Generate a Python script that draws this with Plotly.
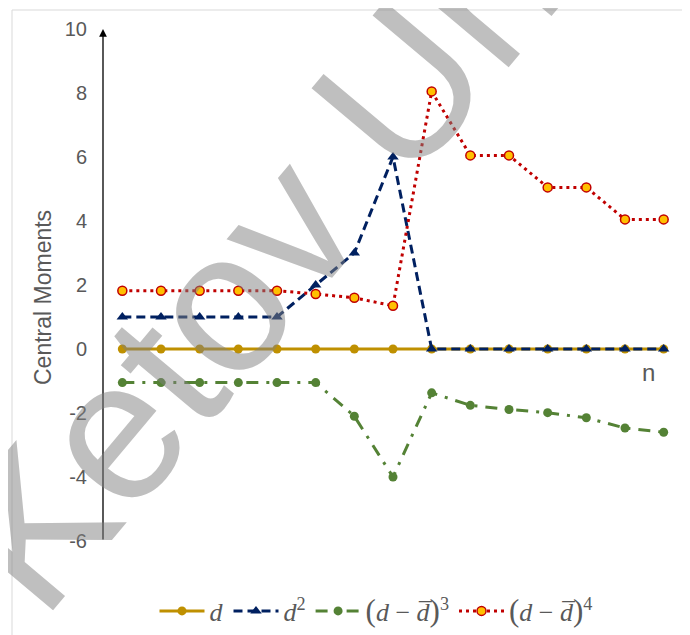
import plotly.graph_objects as go

n = list(range(1, 16))
d_vals = [0] * 15
d2_vals = [1, 1, 1, 1, 1, 2, 3, 6, 0, 0, 0, 0, 0, 0, 0]
m3_vals = [-1.05, -1.05, -1.05, -1.05, -1.05, -1.05, -2.1, -4.0, -1.37, -1.76, -1.89, -1.99, -2.15, -2.47, -2.6]
m4_vals = [1.82, 1.82, 1.82, 1.82, 1.82, 1.72, 1.6, 1.35, 8.05, 6.05, 6.05, 5.05, 5.05, 4.05, 4.05]
y_ticks = [-6, -4, -2, 0, 2, 4, 6, 8, 10]
y_tick_text = ["-6", "-4", "-2", "0", "2", "4", "6", "8", "10"]

LP = '<span style="font-size:31px">(</span>'
RP = '<span style="font-size:31px">)</span>'
names = [
    "<i>d</i>",
    "<i>d</i><sup>2</sup>",
    LP + "<i>d</i> − <i>d\u0305</i>" + RP + "<sup>3</sup>",
    LP + "<i>d</i> − <i>d\u0305</i>" + RP + "<sup>4</sup>",
]

GOLD = "#BF9000"
NAVY = "#002060"
GREEN = "#548235"
RED = "#C00000"
YEL = "#FFC000"
GRAY = "#595959"

fig = go.Figure()
fig.add_trace(go.Scatter(x=n, y=d_vals, name=names[0], mode="lines+markers",
                         line=dict(color=GOLD, width=3),
                         marker=dict(symbol="circle", size=9, color=GOLD)))
fig.add_trace(go.Scatter(x=n, y=d2_vals, name=names[1], mode="lines+markers",
                         line=dict(color=NAVY, width=3, dash="9px,5px"),
                         marker=dict(symbol="triangle-up", size=10, color=NAVY)))
fig.add_trace(go.Scatter(x=n, y=m3_vals, name=names[2], mode="lines+markers",
                         line=dict(color=GREEN, width=3, dash="12px,8px,3px,8px"),
                         marker=dict(symbol="circle", size=9, color=GREEN)))
fig.add_trace(go.Scatter(x=n, y=m4_vals, name=names[3], mode="lines+markers",
                         line=dict(color=RED, width=3, dash="3px,4px"),
                         marker=dict(symbol="circle", size=9, color=YEL,
                                     line=dict(color=RED, width=1.5))))

# page body has an 8px margin; figure sized/offset accordingly
OFF = 8
W, H = 690 - OFF, 635 - OFF
L, T = 103 - OFF, 29 - OFF
R = W - (683 - OFF)
B = H - (541 - OFF)
pw, ph = W - L - R, H - T - B

def px(xp):
    return (xp - OFF - L) / pw

def py(yp):
    return (H - B - (yp - OFF)) / ph

fig.update_layout(
    width=W, height=H,
    margin=dict(l=L, r=R, t=T, b=B, autoexpand=False),
    paper_bgcolor="white", plot_bgcolor="white",
    showlegend=True,
    legend=dict(orientation="h", x=px(376), y=py(611), xanchor="center", yanchor="middle",
                font=dict(family="Liberation Serif", size=26, color=GRAY),
                itemwidth=45, bgcolor="rgba(0,0,0,0)"),
    xaxis=dict(range=[0.5, 15.5], showgrid=False, zeroline=False, showline=False,
               showticklabels=False, ticks=""),
    yaxis=dict(range=[-6, 10], tickvals=y_ticks, ticktext=y_tick_text, showgrid=False,
               zeroline=False, showline=False, ticks="outside", ticklen=11,
               tickcolor="rgba(0,0,0,0)",
               tickfont=dict(family="Liberation Sans", size=20, color=GRAY)),
    font=dict(family="Liberation Sans"),
)

# chart area border
fig.add_shape(type="rect", xref="paper", yref="paper",
              x0=px(12), x1=px(720), y0=py(660), y1=py(10),
              line=dict(color="#D9D9D9", width=1), layer="below")

# y axis with arrow
fig.add_annotation(x=0.5, y=10, ax=0.5, ay=-6, xref="x", yref="y", axref="x", ayref="y",
                   text="", showarrow=True, arrowhead=2, arrowsize=1.2, arrowwidth=1.3,
                   arrowcolor="black")

fig.add_annotation(x=px(43), y=py(298), xref="paper", yref="paper", text="Central Moments",
                   textangle=-90, showarrow=False, xanchor="center", yanchor="middle",
                   font=dict(family="Liberation Sans", size=23, color=GRAY))
fig.add_annotation(x=px(648), y=py(372), xref="paper", yref="paper", text="n",
                   showarrow=False, xanchor="center", yanchor="middle",
                   font=dict(family="Liberation Sans", size=24, color=GRAY))

# watermark
fig.add_annotation(x=px(253), y=py(263), xref="paper", yref="paper", text="Ketov Un",
                   textangle=-50, showarrow=False, xanchor="center", yanchor="middle",
                   font=dict(family="Liberation Sans", size=200,
                             color="rgba(128,128,128,0.5)"))

fig.write_html("out.html")
